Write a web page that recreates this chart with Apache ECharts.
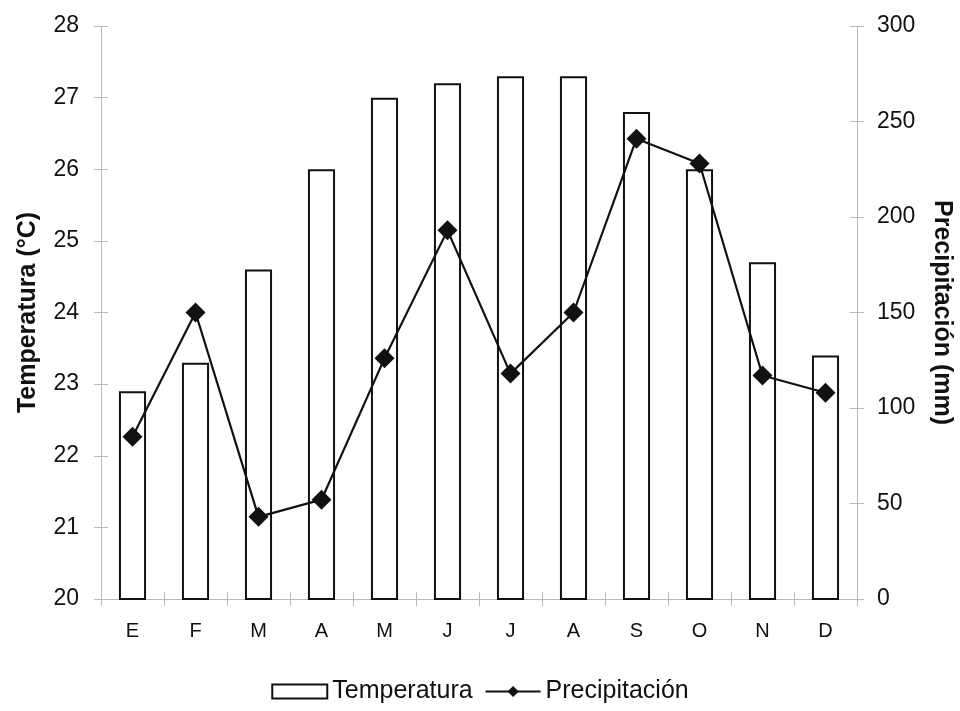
<!DOCTYPE html>
<html>
<head>
<meta charset="utf-8">
<script src="https://cdn.jsdelivr.net/npm/echarts@6/dist/echarts.min.js"></script>
<style>
  html, body { margin: 0; padding: 0; background: #fff; }
  #chart { width: 960px; height: 711px; }
</style>
</head>
<body>
<div id="chart"></div>
<script>
// Monthly climate data
const months = ['E', 'F', 'M', 'A', 'M', 'J', 'J', 'A', 'S', 'O', 'N', 'D'];
const temperatura = [22.9, 23.3, 24.6, 26.0, 27.0, 27.2, 27.3, 27.3, 26.8, 26.0, 24.7, 23.4];
const precipitacion = [85, 150, 43, 52, 126, 193, 118, 150, 241, 228, 117, 108];

const FONT = 'Liberation Sans, Arial, sans-serif';
const AXIS_GREY = '#b8b8b8';
const TICK_LEN = 7;

const chart = echarts.init(document.getElementById('chart'), null, { renderer: 'canvas' });

// Companion axes with inward ticks, so every tick mark crosses its axis line
function innerTicks(base) {
  return Object.assign({}, base, {
    name: '',
    axisLine: { show: false },
    axisLabel: { show: false },
    axisTick: { show: true, inside: true, length: TICK_LEN, lineStyle: { color: AXIS_GREY } },
    splitLine: { show: false }
  });
}

const tempAxis = {
  type: 'value',
  min: 20, max: 28, interval: 1,
  position: 'left',
  name: 'Temperatura (°C)',
  nameLocation: 'middle',
  nameGap: 60,
  nameTextStyle: { fontFamily: FONT, fontSize: 25, fontWeight: 'bold', color: '#111' },
  axisLine: { show: true, lineStyle: { color: AXIS_GREY } },
  axisTick: { show: true, length: TICK_LEN, lineStyle: { color: AXIS_GREY } },
  splitLine: { show: false },
  axisLabel: { fontFamily: FONT, fontSize: 23, color: '#111', margin: 22 }
};

const precAxis = {
  type: 'value',
  min: 0, max: 300, interval: 50,
  position: 'right',
  name: 'Precipitación (mm)',
  nameLocation: 'middle',
  nameRotate: -90,
  nameGap: 72,
  nameTextStyle: { fontFamily: FONT, fontSize: 25, fontWeight: 'bold', color: '#111' },
  axisLine: { show: true, lineStyle: { color: AXIS_GREY } },
  axisTick: { show: true, length: TICK_LEN, lineStyle: { color: AXIS_GREY } },
  splitLine: { show: false },
  axisLabel: { fontFamily: FONT, fontSize: 23, color: '#111', margin: 20 }
};

const monthAxis = {
  type: 'category',
  data: months,
  position: 'bottom',
  axisLine: { lineStyle: { color: AXIS_GREY, width: 1 } },
  axisTick: { show: true, length: TICK_LEN, lineStyle: { color: AXIS_GREY } },
  axisLabel: { fontFamily: FONT, fontSize: 20, color: '#111', margin: 22 }
};

chart.setOption({
  animation: false,
  backgroundColor: '#fff',
  textStyle: { fontFamily: FONT, color: '#111' },
  grid: { left: 101, right: 103, top: 26, bottom: 112, containLabel: false, outerBoundsMode: 'none' },
  legend: {
    bottom: 2,
    left: 'center',
    itemWidth: 55,
    itemHeight: 14,
    itemGap: 12,
    textStyle: { fontFamily: FONT, fontSize: 25, color: '#111' },
    data: [
      { name: 'Temperatura', icon: 'rect' },
      { name: 'Precipitación' }
    ]
  },
  xAxis: [monthAxis, innerTicks(monthAxis)],
  yAxis: [tempAxis, precAxis, innerTicks(tempAxis), innerTicks(precAxis)],
  series: [
    {
      name: 'Temperatura',
      type: 'bar',
      xAxisIndex: 0,
      yAxisIndex: 0,
      data: temperatura,
      barWidth: '43%',
      itemStyle: { color: '#fff', borderColor: '#111', borderWidth: 2 }
    },
    {
      name: 'Precipitación',
      type: 'line',
      xAxisIndex: 0,
      yAxisIndex: 1,
      data: precipitacion,
      symbol: 'diamond',
      symbolSize: 20,
      lineStyle: { color: '#111', width: 2.2 },
      itemStyle: { color: '#111' },
      z: 5
    }
  ]
});
</script>
</body>
</html>
